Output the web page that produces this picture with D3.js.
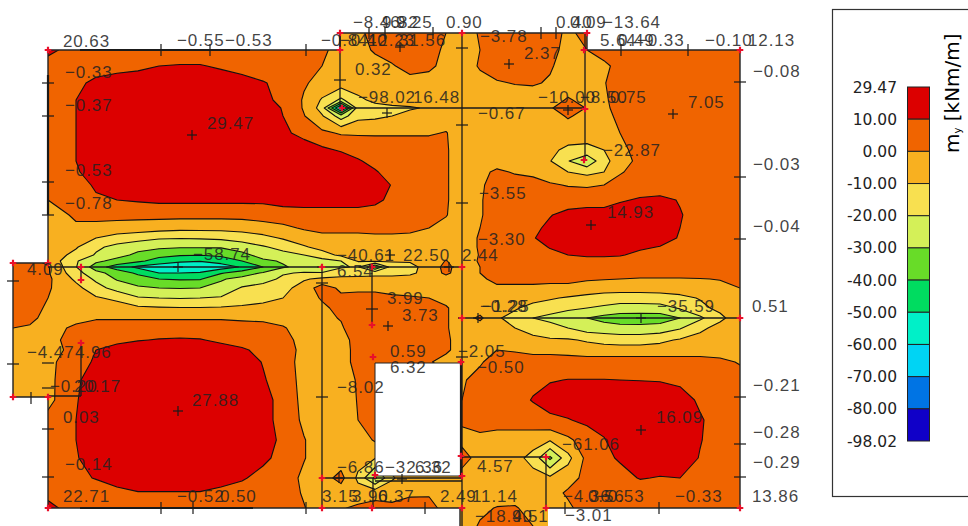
<!DOCTYPE html>
<html>
<head>
<meta charset="utf-8">
<title>my contour plot</title>
<script src="https://cdn.jsdelivr.net/npm/d3@7"></script>
<style>
    html, body { margin: 0; padding: 0; background: #fff; }
    svg { display: block; }
</style>
</head>
<body>
<div id="chart"></div>
<script>
// plan coordinates of the field nodes
const gridX = [-35,-18,0,28,48,69,90,111,132,152,173,194,215,235,256,274,293,310,327,344,362,381,398,414,432,449,467,485,502,520,539,556,572,592,612,632,652,672,692];
const gridY = [475,458,442,425,408,400,392,375,358,347,336,323,308,293,280,270,261,253,247,241,235,229,220,210,200,190,180,168,158,146,128,108,88,68,50,30,15,0,-18];

// m_y [kNm/m], one row per gridY
const fieldRows = [
    [5,5,5,5,5,5,5,5,5,5,5,5,5,5,5,5,-4,-2,3,6,6,6,0,-5,1,5,5,5,4,-2,3,5,5,5,5,5,5,5,5],
    [5,5,13,5,5,5,5,5,5,5,5,5,5,5,5,2,-4,-3,1,5,5,4,-2,-5,0,4,5,5,3,-3,0,4,5,5,5,5,5,5,5],
    [5,5,5,5,6,7,8,10,10.5,10.5,9,7,6,5,4,0,-4,-4,-3,-1,4,2,-3,-5,1,5,5,5,1,-4,-5,-2,3,5,5,5,5,5,5],
    [5,5,5,8,12,14,15,15,15,15,14,13,10.5,8,1,-3,-5,-5,-5,-5,-4,-4,-5,-5,-3,-1,0.5,1,-1,-5,-5,-0.5,4,5,5,5,5,5,5],
    [5,5,5,10,13,15,15,15,15,15,15,15,12,8,-1,-11,-22,-12,-8,-6,-5,-5,-5,-5,-5,-5,-5,-5,-4,1,-3,-1.5,4,5,5,5,5,5,5],
    [5,5,5,10,14,16,16,16,16,16,16,16,14,9.5,-1,-14,-65,-14,-13,-12,-11,-9,-6,-5,-5,-5,-5,-5,-1,5,-0.5,-3,5,5,5,5,5,5,5],
    [5,5,5,10,14,15,15,15,15,15,15,15,15,10,0.5,-9,-25,-13,-12,-10,-7,-5,-5,-5,-5,-5,-5,-5,-4,1,-3,-4,3,5,5,5,5,5,5],
    [5,5,5,10,15,15,15,15,15,15,15,15,15,12,7,2,-1,-1,-1,-1,-1,-1,0.5,-5,-5,-5,-5,-5,-5,-5,-5,-5,0,5,5,5,5,5,5],
    [5,5,5,10,15,15,15,15,15,15,15,15,15,15,15,12,9,6,5,5,5,5,1,-5,-5,-5,-5,-5,-8,-12,-13,-10,-3,4,5,5,5,5,5],
    [5,5,5,10,15,15,15,15,15,15,15,15,15,15,15,15,15,11,7,5,5,5,1,-5,-5,-5,-5,-5,-9.5,-19.5,-28,-13,-5,3,5,5,5,5,5],
    [5,5,5,9,14,15,15,15,15,15,15,15,15,15,15,15,15,15,11,6,5,5,1,-5,-3,2,-1,-3,-5,-10,-13,-10,-1,4,5,5,5,5,5],
    [5,5,5,7,11,15,15,15,15,15,15,15,15,15,15,15,15,15,15,9.5,6,5,1,-5,-1.5,4,5,5,1,-0.5,-1,0,4,5,5,5,5,5,5],
    [5,5,0,7,9,10,11,12,12,12,12,12,12,14,14,14,14,14,12,8,6,5,1,-5,-1,5,5,5,5,5,5,5,9,11,12,9.5,6,5,5],
    [-2,-2,-3,1,3,3,3,3,3,3,3,3,4,5,6,6,6,6,6,6,6,5,0.5,-5,-1,5,6,8,9.5,13,15,15,15,15,15,10.5,7,5,5],
    [-2,-2,-3,-1,-3,-4,-5,-6,-7,-7,-7,-6,-4,-2,1,2,2,2,3,3,3,0,-3,-5,0,5,6,8,12,15,15,15,15,15,15,10,7,5,5],
    [-2,-2,-3,-6,-10,-14,-16,-19,-19.5,-19,-18,-16,-13,-9,-5,-2,-2,-2,-2,-2,-3,-4,-5,-5,1,5,6,9.5,13,15,15,15,15,15,15,9,6,5,5],
    [-2,-2,-4,-9,-18,-23,-27,-28,-29,-29,-29,-25,-21,-17,-11,-7,-4,-3,-3,-3,-4,-5,-5,-5,1,5,7,7,10.5,15,15,15,15,12,9.5,6,5,5,5],
    [-2,-2,-4,-13,-21,-27,-32,-37,-39,-39.5,-38,-33,-26,-23,-20,-14,-8,-4,-3,-3,-4,-5,-4,-5,0.5,5,5,7,8,10,12,12,11,7,5,5,5,5,5],
    [4,3,-3,-19,-28,-33,-38,-44,-48,-49.5,-46,-40,-32,-29,-26,-24,-20,-9,-9,-9,-9,-6,0.5,-5,1,5,5,5,5,5,5,5,5,5,5,5,5,5,5],
    [5,5,1,-19.5,-35,-45,-52,-56,-58.7,-58,-55,-49,-40,-31,-27,-31,-21,-19,-40,-15,-13,-6,3,-5,0,5,5,5,5,5,5,5,5,5,5,5,5,5,5],
    [5,5,1,-16,-27,-34,-42,-50,-50,-49,-41,-35,-29,-21,-19,-19,-15,-14,-13,-13,-12,-6,2,-5,0,5,5,5,5,5,5,5,5,5,5,5,5,5,5],
    [5,5,2,-12,-22,-31,-35,-40,-41,-41,-31,-27,-24,-18,-11,-8,-7,-7,-7,-7,-6,-5,-4,-5,-2,3,3,3,2,2,1,0.5,0,-1,-1,-1,-0.5,0.5,3],
    [5,5,1,-7,-16,-24,-28.5,-30,-30.5,-30,-27,-19,-16,-13,-6,5,-2,-2,-2,-2,-2,-2,-4,-5,-3,-2,-2,-2,-2,-2,-4,-6,-6,-6,-6,-6,-5,-3,0],
    [5,5,0,-5,-9,-12,-19,-20,-20.5,-20,-19,-16,-14,-10,-5,1,2,3,3,1,0.5,0,-3,-5,-5,-5,-5,-7,-9,-11,-13,-14,-15,-15,-14,-12,-9.5,-6,-3],
    [5,5,-2,-4,-5,-6,-8,-9,-9.5,-9.5,-9,-8,-6,-4,-3,-2,3,5,5,5,5,5,1,-5,-5,-5,-9,-13,-15,-18,-20,-22,-24,-24,-24,-19,-12,-8,-4],
    [5,3,-4,-3,-1,-1,-1,-1,-1,-1,-1,-2,-3,-4,-5,-2,0.5,5,5,5,5,5,1,-5,2,-9,-13,-20,-23,-26,-30,-33,-35,-35.5,-35,-30,-22,-12,-5],
    [0,-1.5,-4,2,5,5,5,5,5,5,5,5,5,1,-5,-4,-1,5,5,5,5,5,1,-5,-5,-5,-10,-13,-16,-20,-25,-26,-27,-27,-26,-21,-12,-7,-4],
    [-2,-3,-4,5,6,8,9.5,10.5,11,10.5,8.5,7,5,3,-3,-5,-3,3,5,5,5,5,2,-5,-5,-5,-7,-8,-9,-9,-11,-13,-14,-14,-12,-9,-7,-5,-4],
    [-4,-4,-5,4,10,13,15,15,15,15,13,11,8,5,-3,-5,-5,4,5,5,5,5,2,-5,-2,0,-1,-3,-3,-4,-6,-6,-6,-6,-6,-6,-6,-6,-3],
    [-4,-4,-3,7,11,14,15,15,15,15,15,15,9.5,5,-4,-5,-5,4,5,5,5,1,-4,-5,-1,4,5,5,5,5,5,5,5,5,5,5,5,3,-1],
    [-5,-5,-3,9,13,15,15,15,15,15,15,15,11,5,-3,-5,-5,1,5,5,5,5,5,-1,3,5,5,8,9.5,10.2,10.2,10.2,10,9.8,9.5,8,6,5,5],
    [-5,-5,-3,9.5,14,15,15,15,15,15,15,15,13,7,-3,-5,-5,0.5,5,5,5,5,5,0,4,5,7,10.5,13,15,15,15,15,15,15,14,8.5,5,5],
    [5,5,3,10,14,15,15,15,15,15,15,15,13,7,-2,-5,-5,0,5,5,5,5,5,1,5,5,5,6,8.5,9.5,12,13,15,15,15,15,11,6,5],
    [5,5,4,10,14,15,15,15,15,15,15,15,14,8,0.5,-5,-5,-5,1,-5,-5,-5,-5,-2,-3,-5,-5,-6,-9,-2,5,9.5,14,15,15,15,10.5,6,5],
    [5,5,5,9.5,13,15,15,15,15,15,15,15,12,7,0.5,-5,-5,-6,-9.5,-5,-5,-5,-5,3,-3,-5,-7,-13,-32,-13,3,8,11,15,15,15,9.5,5.5,5],
    [5,5,6,8,10.5,13,15,15,15,15,13,11,7,5,-2,-4,3,-12,-32,-11,-5,-4,-3,-3,-5,-5,-5,-7,-8,-4,3,5,7,10.5,9.5,10,7,5,5],
    [5,5,7,5,5,8,9.5,9.5,9.5,9.5,8,6,5,5,-1,-5,-5,-6,-3,-5,-1.5,-1,-4,-5,-5,-5,-5,-5,-4,1.5,4,5,5,5,5,5,5,5,5],
    [5,5,13,5,5,5,5,5,5,5,5,5,5,5,0.5,-5,-1,2,3,3,4,3,-3,-5,-2,0.5,1,-4,-5,-2,5,5,5,5,5,5,5,5,5],
    [5,5,5,5,5,5,5,5,5,5,5,5,5,5,5,5,5,5,5,5,5,5,5,-5,1,7,8,0,-5,5,5,5,5,5,5,5,5,5,5]
];

// lower limit of each colour band, and the legend
const levels = [-98.02,-80,-70,-60,-50,-40,-30,-20,-10,0,10];
const bandColors = ["#1000c8","#0074e4","#00d4f4","#00f0c8","#00dc60","#68dc28","#d4f058","#f8e050","#f8b020","#f06400","#dc0000"];
const legendLabels = ["29.47","10.00","0.00","-10.00","-20.00","-30.00","-40.00","-50.00","-60.00","-70.00","-80.00","-98.02"];

// plate geometry in plan coordinates
const plateEdge = [[412,-18],[412,0],[0,0],[0,111],[-35,111],[-35,245],[0,245],[0,458],[292,458],[292,475],[539,475],[539,458],[692,458],[692,0],[500,0],[500,-18]];
const holeEdge = [[327,145],[413,145],[413,32],[327,32]];
const beamLines = [
    [292,475,292,400],[293,400,537,400],[414,475,414,-18],[537,475,537,348],[0,241,414,241],[410,190,692,190],
    [274,241,274,0],[324,241,324,183],[33,241,33,228],[33,165,33,112],[0,112,33,112],[274,30,414,30],[327,27,414,27],
    [414,51,498,51],[498,51,498,0],[325,30,325,0]
];
const heavyEdges = [[0,433,0,293],[32,458,202,458],[32,0,205,0],[413,145,413,32]];
const hTicks = [[0,425],[0,392],[0,326],[0,293],[0,145],[0,120],[0,79],[0,31],[-35,227],[-35,144],[692,426],[692,331],[692,269],[692,111],[692,64],[692,31],[292,428],[414,460],[414,383],[414,305],[414,151],[274,225],[274,111],[324,199]];
const vTicks = [[113,458],[162,458],[258,458],[321,475],[337,475],[385,475],[493,475],[508,475],[573,458],[640,458],[113,0],[145,0],[258,0],[377,0],[611,0],[517,0],[-17,110]];
const extremeMarks = [[144,373],[130,241],[130,97],[340,182],[461,444],[625,394],[543,283],[593,190],[593,78],[352,461],[339,395],[430,190],[520,398],[291,30],[401,241],[354,29],[342,253]];
const supportNodes = [[0,458],[292,475],[292,458],[414,475],[539,475],[536,458],[692,458],[537,399],[536,348],[414,241],[-35,245],[0,245],[33,241],[33,228],[274,241],[324,241],[324,183],[325,151],[413,146],[33,165],[-35,111],[0,111],[692,190],[414,190],[413,52],[498,51],[414,32],[274,30],[327,33],[498,0],[414,0],[274,0],[324,0],[0,0],[692,0],[294,400]];

// value labels [text, x, y]
const pointLabels = [
    ["20.63",15,461],["−0.55",129,462],["−0.53",177,462],["−0.84",273,462],["−0.40",292,462],["12.23",320,462],["31.56",351,462],
    ["−8.46",305,480],["9.82",334,480],["9.25",348,480],["0.90",398,480],["−3.78",432,466],["2.37",476,449],["0.40",508,480],["0.09",522,480],["−13.64",555,480],
    ["5.64",552,462],["0.49",570,462],["−0.33",589,462],["−0.10",657,462],["12.13",700,462],["−0.08",705,431],["0.32",307,433],
    ["−98.02",310,405],["16.48",365,405],["−0.67",430,389],["−10.00",490,405],["−8.50",532,405],["0.75",562,405],["7.05",640,400],
    ["−22.87",555,352],["−3.55",431,309],["14.93",559,290],["−3.30",430,263],["−0.03",705,338],["−0.04",705,276],
    ["−0.33",17,430],["−0.37",17,397],["−0.53",17,332],["−0.78",17,299],["29.47",159,379],["−58.74",145,248],
    ["−40.61",289,247],["22.50",355,247],["2.44",414,247],["6.54",289,231],["3.99",339,204],["3.73",354,187],["4.09",-21,233],
    ["−4.47",-21,150],["4.96",27,150],["−0.20",2,116],["20.17",26,116],["0.03",15,85],["−0.14",17,38],["27.88",144,102],
    ["22.71",15,6],["−0.52",129,6],["0.50",172,6],["−8.02",289,115],["6.32",342,135],["0.59",342,151],["−2.05",410,151],["−0.50",429,135],
    ["−0.21",705,117],["−0.28",705,70],["−0.29",705,40],["0.51",704,196],["13.86",704,6],["16.09",608,85],["−61.06",514,58],["4.57",429,36],
    ["−35.59",609,196],["−0.28",432,196],["−1.25",434,196],["2.49",392,6],["11.14",424,6],["−18.40",427,-14],["9.51",464,-14],["−3.01",517,-13],
    ["−4.36",515,6],["0.56",540,6],["−0.53",549,6],["−0.33",627,6],["3.15",274,6],["3.90",304,6],["6.37",330,6],["−6.86",289,35],["−32.36",337,35],["6.32",367,35]
];

const width = 968, height = 526;

// append the svg object to the body of the page
const svg = d3.select("#chart")
    .append("svg")
    .attr("width", width)
    .attr("height", height);

// plan scales
const x = d3.scaleLinear().domain([-35, 692]).range([13, 740]);
const y = d3.scaleLinear().domain([-18, 475]).range([526, 33]);

// contour space to plan coordinates, grid nodes sit at i + 0.5
const xNode = d3.scaleLinear().domain(gridX.map((d, i) => i + 0.5)).range(gridX);
const yNode = d3.scaleLinear().domain(gridY.map((d, i) => i + 0.5)).range(gridY);

const contours = d3.contours()
    .size([gridX.length, gridY.length])
    .thresholds(levels)
    (fieldRows.flat());

const contourPath = d3.geoPath(d3.geoTransform({
    point: function(px, py) { this.stream.point(x(xNode(px)), y(yNode(py))); }
}));

const planLine = d3.line().x(d => x(d[0])).y(d => y(d[1]));

// everything outside the plate and inside the opening is cut away
svg.append("defs").append("clipPath")
    .attr("id", "plate")
    .append("path")
    .attr("clip-rule", "evenodd")
    .attr("d", planLine(plateEdge) + "Z" + planLine(holeEdge) + "Z");

svg.append("g")
    .attr("clip-path", "url(#plate)")
    .selectAll("path")
    .data(contours)
    .join("path")
    .attr("d", contourPath)
    .attr("fill", (d, i) => bandColors[i])
    .attr("stroke", "#111")
    .attr("stroke-width", 1.1)
    .attr("stroke-linejoin", "round");

// plate edge
svg.append("path")
    .attr("d", planLine(plateEdge.slice(0, -1)))
    .attr("fill", "none")
    .attr("stroke", "#222")
    .attr("stroke-width", 1.4);
svg.append("path")
    .attr("d", planLine(holeEdge) + "Z")
    .attr("fill", "none")
    .attr("stroke", "#222")
    .attr("stroke-width", 1);

const segments = (g, data, w) => g.selectAll("line")
    .data(data)
    .join("line")
    .attr("x1", d => x(d[0]))
    .attr("y1", d => y(d[1]))
    .attr("x2", d => x(d[2]))
    .attr("y2", d => y(d[3]))
    .attr("stroke", "#1a1a1a")
    .attr("stroke-width", w);

segments(svg.append("g"), beamLines, 1.3);
segments(svg.append("g"), heavyEdges, 2.2);
segments(svg.append("g"), hTicks.map(d => [d[0] - 6, d[1], d[0] + 6, d[1]]), 1.2);
segments(svg.append("g"), vTicks.map(d => [d[0], d[1] - 6, d[0], d[1] + 6]), 1.2);
segments(svg.append("g"), extremeMarks.flatMap(d => [[d[0] - 5, d[1], d[0] + 5, d[1]], [d[0], d[1] - 5, d[0], d[1] + 5]]), 1.2);

// nodes
svg.append("g")
    .selectAll("path")
    .data(supportNodes)
    .join("path")
    .attr("transform", d => `translate(${x(d[0])},${y(d[1])})`)
    .attr("d", d3.symbol(d3.symbolCross, 24))
    .attr("fill", "#e8102a");

// value labels
svg.append("g")
    .selectAll("text")
    .data(pointLabels)
    .join("text")
    .attr("x", d => x(d[1]))
    .attr("y", d => y(d[2]))
    .attr("font-family", "'Liberation Sans', sans-serif")
    .attr("font-size", 17)
    .attr("letter-spacing", 0.9)
    .attr("fill", "#222")
    .attr("fill-opacity", 0.85)
    .text(d => d[0]);

//////////
// LEGEND //
//////////

svg.append("rect")
    .attr("x", 832.5)
    .attr("y", 9.5)
    .attr("width", 160)
    .attr("height", 487)
    .attr("fill", "#fff")
    .attr("stroke", "#333")
    .attr("stroke-width", 1.2);

const legendY = d3.scalePoint().domain(legendLabels).range([87, 441]);
const legendBands = bandColors.slice().reverse();

svg.append("g")
    .selectAll("rect")
    .data(legendBands)
    .join("rect")
    .attr("x", 907.5)
    .attr("y", (d, i) => legendY(legendLabels[i]))
    .attr("width", 22)
    .attr("height", legendY.step())
    .attr("fill", d => d)
    .attr("stroke", "#222")
    .attr("stroke-width", 1);

svg.append("g")
    .selectAll("text")
    .data(legendLabels)
    .join("text")
    .attr("x", 897)
    .attr("y", d => legendY(d))
    .attr("dy", "0.36em")
    .attr("text-anchor", "end")
    .attr("font-family", "'DejaVu Sans', sans-serif")
    .attr("font-size", 15.5)
    .attr("fill", "#222")
    .text(d => d);

const title = svg.append("text")
    .attr("transform", "translate(959,153) rotate(-90)")
    .attr("font-family", "'DejaVu Sans', sans-serif")
    .attr("font-size", 20)
    .attr("fill", "#000");
title.append("tspan").text("m");
title.append("tspan").attr("font-size", 10).attr("dy", 2).text("y");
title.append("tspan").attr("dy", -2).text(" [kNm/m]");
</script>
</body>
</html>
